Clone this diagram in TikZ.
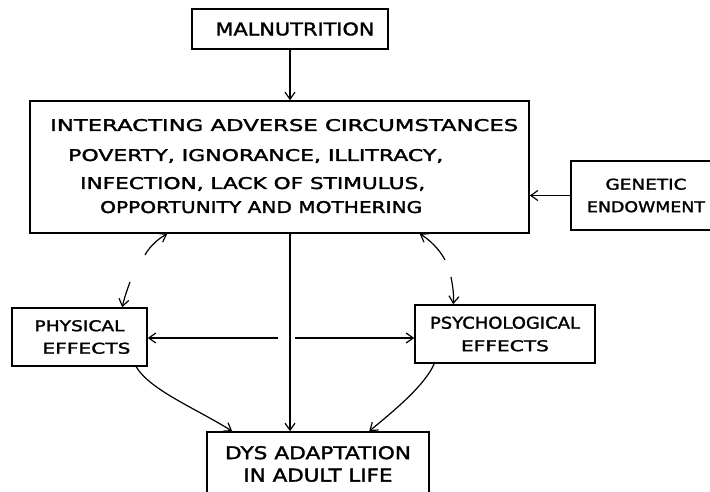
\documentclass[tikz,border=0pt]{standalone}
\usepackage{fontspec}
\setmainfont[FakeBold=1.6]{DejaVu Sans}
\usetikzlibrary{arrows.meta,calc}
\newcommand{\lettered}[3]{\resizebox{#1}{#2}{#3}}
\begin{document}
\begin{tikzpicture}[x=1pt,y=-1pt,
  box/.style={draw, line width=1.6pt, rectangle, inner sep=0pt, align=center,
              font=\fontsize{12}{22.5}\selectfont},
  txt/.style={inner sep=0pt, anchor=base west},
  arr/.style={line width=1.2pt, -{Straight Barb[length=7pt,width=10pt,line width=1.2pt]}},
]
\useasboundingbox (0,0) rectangle (710,492);

% boxes
\node[box, minimum width=196pt, minimum height=40pt] (mal) at (290,29)
  {\hspace*{10pt}\lettered{159pt}{13pt}{MALNUTRITION}};
\node[box, minimum width=499pt, minimum height=132pt] (big) at (279.5,167) {};
\node[txt] (t1) at (50,131) {\lettered{468pt}{12pt}{INTERACTING ADVERSE CIRCUMSTANCES}};
\node[txt] (t2) at (68,161) {\lettered{375pt}{12pt}{POVERTY, IGNORANCE, ILLITRACY,}};
\node[txt] (t3) at (80,189) {\lettered{345pt}{12pt}{INFECTION, LACK OF STIMULUS,}};
\node[txt] (t4) at (100,213) {\lettered{322pt}{12pt}{OPPORTUNITY AND MOTHERING}};

\node[box, minimum width=150pt, minimum height=69pt] (gen) at (646,195.5)
  {\lettered{81pt}{11pt}{GENETIC}\\\lettered{118pt}{11pt}{ENDOWMENT}};
\node[box, minimum width=135pt, minimum height=58pt] (phys) at (79.5,337)
  {\lettered{90pt}{11pt}{PHYSICAL}\\\hspace*{14pt}\lettered{88pt}{11pt}{EFFECTS}};
\node[box, minimum width=180pt, minimum height=58pt] (psy) at (505,334)
  {\lettered{150pt}{12pt}{PSYCHOLOGICAL}\\\lettered{88pt}{11pt}{EFFECTS}};
\node[box, minimum width=222pt, minimum height=64pt] (dys) at (318,464)
  {\lettered{186pt}{13pt}{DYS ADAPTATION}\\\lettered{149pt}{13pt}{IN ADULT LIFE}};

% straight connectors
\draw[arr] (mal.south) -- (mal.south |- big.north);
\draw[arr] (gen.west) -- (gen.west -| big.east);
\draw[arr] (big.south -| mal.south) -- (dys.north -| mal.south);

\coordinate (gL) at (278,338);
\coordinate (gR) at (295,338);
\draw[arr] (gL) -- (gL -| phys.east);
\draw[arr] (gR) -- (gR -| psy.west);

% broken curved two-way links
\coordinate (a1) at (145,255);
\coordinate (a2) at (130,282);
\coordinate (b1) at (445,260);
\coordinate (b2) at (451,277);
\draw[arr] (a1) .. controls (150,246) and (158,239) .. ([xshift=138pt]big.south west);
\draw[arr] (a2) .. controls (127,290) and (124,299) .. ([xshift=111pt]phys.north west);
\draw[arr] (b1) .. controls (440,250) and (430,240) .. ([xshift=390.5pt]big.south west);
\draw[arr] (b2) .. controls (453,287) and (454,296) .. ([xshift=39pt]psy.north west);

% effects to dysadaptation
\draw[arr] ([xshift=125pt]phys.south west) .. controls (150,390) and (195,408) .. ([xshift=26pt]dys.north west);
\draw[arr] ([xshift=20pt]psy.south west) .. controls (425,385) and (395,410) .. ([xshift=163pt]dys.north west);
\end{tikzpicture}
\end{document}
